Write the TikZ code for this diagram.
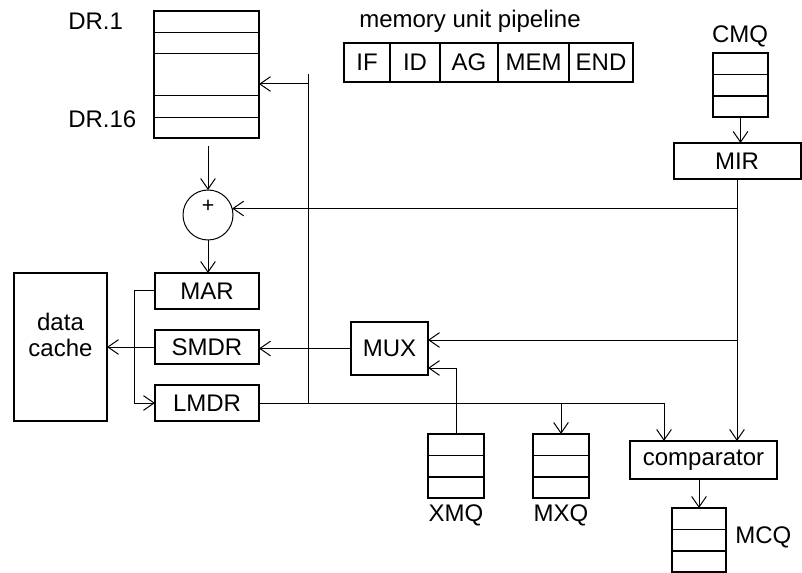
\documentclass[tikz,border=0pt]{standalone}
\usepackage{fontspec}
\setmainfont{Liberation Sans}
\usetikzlibrary{positioning, arrows.meta, calc}
\tikzset{
	unitbox/.style={rectangle, draw, line width=1.5pt, inner sep=0pt, outer sep=0pt,
		font=\fontsize{18}{20}\selectfont},
	queuebox/.style={rectangle, draw, line width=0.9pt, minimum width=42pt,
		minimum height=48pt, inner sep=0pt, outer sep=0pt},
	wire/.style={line width=0.75pt},
	wirearr/.style={wire, -{Straight Barb[length=8pt, width=11pt]}},
	tag/.style={font=\fontsize{18}{20}\selectfont, inner sep=0pt}
}

\begin{document}
\begin{tikzpicture}[x=0.75pt, y=-0.75pt]
	\useasboundingbox (0,0) rectangle (802,573);
	% register file
	\node[unitbox, minimum width=78.75pt, minimum height=95.25pt] (dr) at (206.5,74.5) {};
	\foreach \f in {0.173,0.331,0.669,0.835}
		\draw[wire] ($(dr.north west)!\f!(dr.south west)$) -- ($(dr.north east)!\f!(dr.south east)$);
	\node[tag, anchor=west] (drfirst) at (68,21) {DR.1};
	\node[tag, anchor=west] (drlast) at (68,119) {DR.16};
	% adder
	\node[circle, draw, wire, minimum size=37.5pt, inner sep=0pt, outer sep=0pt] (add) at (208,215) {};
	\node[font=\fontsize{16}{16}\selectfont, inner sep=0pt] (plus) at (208,206) {+};
	% memory registers and cache
	\node[unitbox, minimum width=78pt, minimum height=27pt] (mar) at (207,291) {MAR};
	\node[unitbox, minimum width=78pt, minimum height=25.5pt] (smdr) at (207,347) {SMDR};
	\node[unitbox, minimum width=78pt, minimum height=27pt] (lmdr) at (207,403) {LMDR};
	\node[unitbox, minimum width=69.75pt, minimum height=111pt,
		label={[tag, align=center, yshift=9pt]center:data\\cache}] (cache) at (60.5,347) {};
	\node[unitbox, minimum width=57.75pt, minimum height=39.75pt] (mux) at (389.5,348.5) {MUX};
	% pipeline
	\node[tag] (pipetitle) at (470,21) {memory unit pipeline};
	\node[unitbox, minimum width=34.5pt, minimum height=29.25pt, anchor=west] (pif) at (344,62.5) {IF};
	\node[unitbox, minimum width=37.5pt, minimum height=29.25pt, right=0pt of pif] (pid) {ID};
	\node[unitbox, minimum width=43.5pt, minimum height=29.25pt, right=0pt of pid] (pag) {AG};
	\node[unitbox, minimum width=53.25pt, minimum height=29.25pt, right=0pt of pag] (pmem) {MEM};
	\node[unitbox, minimum width=48pt, minimum height=29.25pt, right=0pt of pmem] (pend) {END};
	% queues
	\node[tag] (cmqlabel) at (740,36) {CMQ};
	\node[queuebox, minimum width=41.25pt] (cmq) at (740.5,85) {};
	\node[unitbox, minimum width=95.25pt, minimum height=27pt] (mir) at (737,161) {MIR};
	\node[unitbox, minimum width=110.25pt, minimum height=28.5pt] (cmp) at (703.5,460) {comparator};
	\node[queuebox] (xmq) at (456,466) {};
	\node[tag] (xmqlabel) at (456,515) {XMQ};
	\node[queuebox] (mxq) at (561,466) {};
	\node[tag] (mxqlabel) at (561,515) {MXQ};
	\node[queuebox, minimum width=40.5pt] (mcq) at (699,540) {};
	\node[tag, anchor=west] (mcqlabel) at (735,537) {MCQ};
	\foreach \q in {cmq,xmq,mxq,mcq} {
		\draw[wire] ($(\q.north west)!0.33!(\q.south west)$) -- ($(\q.north east)!0.33!(\q.south east)$);
		\draw[line width=1.4pt] ($(\q.north west)!0.67!(\q.south west)$) -- ($(\q.north east)!0.67!(\q.south east)$);
	}
	% connectors
	\coordinate (muxtop) at ($(mux.east)+(0,-8.5)$);
	\coordinate (muxlow) at ($(mux.east)+(0,19.5)$);
	\coordinate (drtap) at ($(lmdr.east)+(49,0)$);
	\draw[wirearr] ($(add.north |- dr.south)+(0,8)$) -- (add.north);
	\draw[wirearr] (add.south) -- (add.south |- mar.north);
	\draw[wirearr] (mar.west) -- ++(-21,0) |- (lmdr.west);
	\draw[wirearr] (smdr.west) -- (smdr.west -| cache.east);
	\draw[wirearr] (mux.west) -- (mux.west -| smdr.east);
	\draw[wirearr] (cmq.south) -- (cmq.south |- mir.north);
	\draw[wirearr] (mir.south) -- (mir.south |- cmp.north);
	\draw[wirearr] (mir.south |- add.15) -- (add.15);
	\draw[wirearr] (mir.south |- muxtop) -- (muxtop);
	\draw[wirearr] (xmq.north) |- (muxlow);
	\draw[wirearr] (lmdr.east) -| ($(cmp.north west)+(34,0)$);
	\draw[wirearr] (lmdr.east -| mxq.north) -- (mxq.north);
	\draw[wire] (drtap) -- (drtap |- dr.center);
	\draw[wirearr] ($(drtap |- dr.center)+(0,9.5)$) -- ($(dr.center -| dr.east)+(0,9.5)$);
	\draw[wirearr] (cmp.south -| mcq.north) -- (mcq.north);
\end{tikzpicture}
\end{document}
